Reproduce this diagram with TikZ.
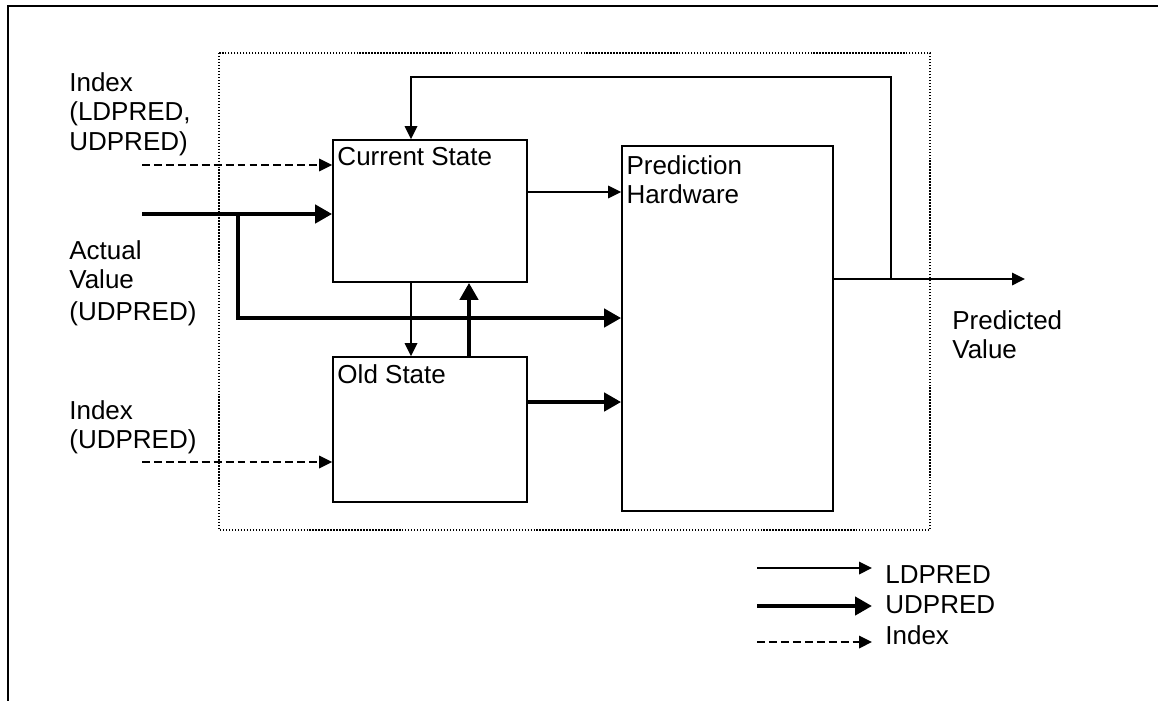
\documentclass[tikz,border=0pt]{standalone}
\usepackage{fontspec}
\setmainfont{Liberation Sans}
\usepackage{tikz}
\usetikzlibrary{arrows.meta,positioning,calc}
\definecolor{ink}{HTML}{000000}

\tikzset{
  blk/.style={draw=ink, line width=1pt, inner sep=0pt, fill=white},
  lbl/.style={inner sep=0pt, anchor=north west, align=left,
    font=\fontsize{14.8}{16.8}\selectfont},
  ldp/.style={draw=ink, line width=1pt, -{Triangle[length=0.26cm,width=0.25cm]}},
  udp/.style={draw=ink, line width=2.6pt, -{Triangle[length=0.34cm,width=0.36cm]}},
  idx/.style={draw=ink, line width=1pt, dash pattern=on 4.5pt off 2.3pt,
    -{Triangle[length=0.26cm,width=0.25cm]}},
}

\begin{document}
\begin{tikzpicture}[x=0.02cm, y=-0.02cm]
  \useasboundingbox (0,0) rectangle (1158,700);
  % frame and system boundary
  \draw[line width=1.2pt] (8,6) rectangle (1175,715);
  \draw[line width=0.9pt, dash pattern=on 0.8pt off 0.9pt] (219,53) rectangle (930,530);

  % blocks
  \node[blk, minimum width=3.88cm, minimum height=2.84cm] (cur) at (430,211) {};
  \node[blk, minimum width=3.88cm, minimum height=2.90cm] (old) at (430,429.5) {};
  \node[blk, minimum width=4.22cm, minimum height=7.30cm] (hw) at (727.5,328.5) {};
  \node[lbl] (curtxt) at ([xshift=0.1cm, yshift=-0.16cm]cur.north west) {Current State};
  \node[lbl] (oldtxt) at ([xshift=0.1cm, yshift=-0.16cm]old.north west) {Old State};
  \node[lbl] (hwtxt) at ([xshift=0.1cm, yshift=-0.2cm]hw.north west) {Prediction\\Hardware};

  % inputs
  \node[lbl] (in1) at (69,72) {Index\\(LDPRED,\\UDPRED)};
  \node[lbl] (in2) at (69,240) {Actual\\Value\\[1.5pt](UDPRED)};
  \node[lbl] (in3) at (69,400) {Index\\(UDPRED)};
  \coordinate (ia) at (142,165);
  \coordinate (av) at (142,214);
  \coordinate (br) at (238,214);
  \coordinate (brk) at (238,318);
  \coordinate (ib) at (142,462);
  \draw[idx] (ia) -- (ia -| cur.west);
  \draw[udp] (av) -- (av -| cur.west);
  \draw[udp] (br) -- (brk) -- (brk -| hw.west);
  \draw[idx] (ib) -- (ib -| old.west);

  % internal connections
  \draw[ldp] ([yshift=0.38cm]cur.east) -- ([yshift=0.38cm]cur.east -| hw.west);
  \draw[udp] ([yshift=0.55cm]old.east) -- ([yshift=0.55cm]old.east -| hw.west);
  \draw[ldp] ([xshift=-0.38cm]cur.south) -- ([xshift=-0.38cm]old.north);
  \draw[udp] ([xshift=0.78cm]old.north) -- ([xshift=0.78cm]cur.south);

  % output and feedback
  \coordinate (out) at (1025,279);
  \coordinate (fb) at (891,279);
  \coordinate (fbt) at (891,77);
  \draw[ldp] (hw.east |- out) -- (out);
  \draw[ldp] (fb) -- (fbt) -| ([xshift=-0.38cm]cur.north);
  \node[lbl] (pv) at (952,310) {Predicted\\Value};

  % legend
  \coordinate (l1) at (757,568);
  \coordinate (l2) at (757,606);
  \coordinate (l3) at (757,642);
  \draw[ldp] (l1) -- ++(115,0);
  \draw[udp] (l2) -- ++(115,0);
  \draw[idx] (l3) -- ++(115,0);
  \node[lbl] (k1) at (885,565) {LDPRED};
  \node[lbl] (k2) at (885,595) {UDPRED};
  \node[lbl] (k3) at (885,625) {Index};
\end{tikzpicture}
\end{document}
